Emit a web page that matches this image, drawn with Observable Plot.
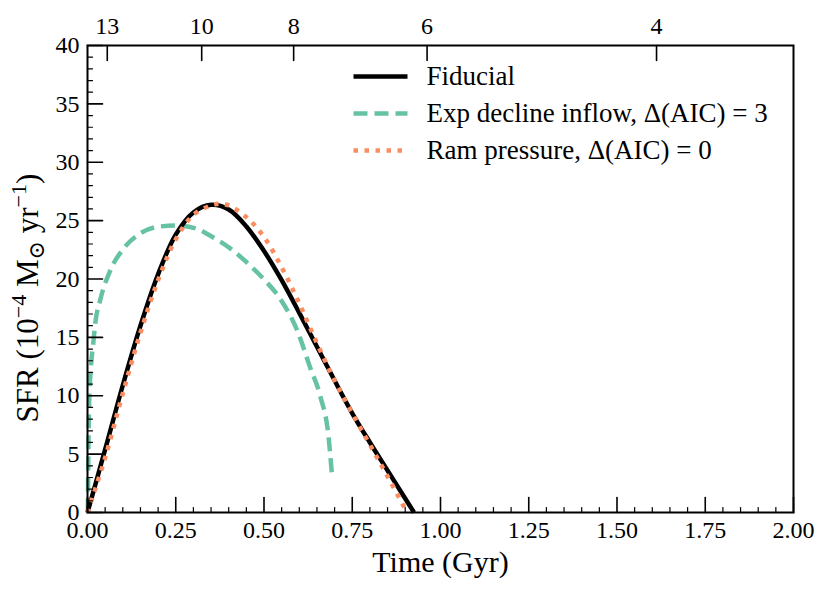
<!DOCTYPE html>
<html>
<head>
<meta charset="utf-8">
<script src="https://cdn.jsdelivr.net/npm/d3@7"></script>
<script src="https://cdn.jsdelivr.net/npm/@observablehq/plot@0.6"></script>
<style>
  html, body { margin: 0; padding: 0; background: #fff; }
  #chart svg { display: block; }
</style>
</head>
<body>
<div id="chart"></div>
<script>
// ---- data ----
const fiducialT   = [0, 0.05, 0.10, 0.15, 0.20, 0.25, 0.30, 0.35, 0.40, 0.45, 0.50, 0.55, 0.60, 0.65, 0.70, 0.75, 0.80, 0.85, 0.90, 0.925];
const fiducialSFR = [0, 5.4, 10.9, 16.0, 20.4, 23.8, 25.7, 26.35, 25.95, 24.5, 22.4, 19.9, 17.1, 14.2, 11.3, 8.5, 6.0, 3.6, 1.2, 0];

const expT   = [0.001, 0.002, 0.004, 0.006, 0.0096, 0.017, 0.022, 0.036, 0.064, 0.102, 0.149, 0.206, 0.253, 0.31, 0.348, 0.405, 0.452, 0.499, 0.546, 0.594, 0.631, 0.66, 0.683, 0.692];
const expSFR = [0, 3.5, 8.5, 10.5, 12.4, 14.7, 16.2, 18.2, 20.7, 22.6, 23.9, 24.5, 24.58, 24.3, 23.7, 22.6, 21.4, 20.0, 18.3, 15.6, 12.4, 9.9, 6.45, 3.4];

const ramT   = [0, 0.05, 0.10, 0.15, 0.20, 0.25, 0.30, 0.35, 0.375, 0.40, 0.45, 0.50, 0.55, 0.60, 0.65, 0.70, 0.75, 0.80, 0.85, 0.90];
const ramSFR = [0, 4.7, 10.2, 15.4, 19.9, 23.4, 25.5, 26.3, 26.45, 26.3, 25.3, 23.6, 21.0, 17.9, 14.5, 11.3, 8.5, 5.8, 3.1, 0.3];

const seriesNames  = ["Fiducial", "Exp decline inflow, Δ(AIC) = 3", "Ram pressure, Δ(AIC) = 0"];
const seriesColors = ["#000000", "#66c2a5", "#fc8d62"];

const xMajorTicks = [0, 0.25, 0.5, 0.75, 1.0, 1.25, 1.5, 1.75, 2.0];
const yMajorTicks = [0, 5, 10, 15, 20, 25, 30, 35, 40];
const topTickLabels = ["13", "10", "8", "6", "4"];
const topTickTimes  = [0.056, 0.3235, 0.584, 0.962, 1.612];

const xLabel = "Time (Gyr)";
const yLabelParts = [["SFR (10", ""], ["−4", "sup"], [" M", ""], ["⊙", "sub"], [" yr", ""], ["−1", "sup"], [")", ""]];

// ---- derived ----
const toRows = (T, S) => T.map((t, i) => ({t, s: S[i]}));
const fiducial = toRows(fiducialT, fiducialSFR);
const expDecline = toRows(expT, expSFR);
const ram = toRows(ramT, ramSFR);

const xMinorTicks = d3.range(0, 2.0001, 0.05).map(v => +v.toFixed(2)).filter(v => !xMajorTicks.some(m => Math.abs(m - v) < 1e-6));
const yMinorTicks = d3.range(0, 41, 1).filter(v => v % 5 !== 0);
const topMap = new Map(topTickTimes.map((t, i) => [t, topTickLabels[i]]));
const yLabelText = yLabelParts.map(p => p[0]).join("");

const tickShape = { draw(ctx, l) { ctx.moveTo(0, 0); ctx.lineTo(0, -l); } };
const FONT = "'Liberation Serif', 'DejaVu Serif', serif";

const legendDash = [null, "14,7", "4.5,6.5"];
const legendRowsDy = [31, 68, 105];

const plot = Plot.plot({
  width: 830,
  height: 595,
  marginLeft: 87,
  marginRight: 37,
  marginTop: 45,
  marginBottom: 83,
  style: { fontFamily: FONT, fontSize: "24px", background: "#fff", color: "#000" },
  x: { domain: [0, 2], label: null },
  y: { domain: [0, 40], label: null },
  marks: [
    // curves
    Plot.line(expDecline, {x: "t", y: "s", stroke: seriesColors[1], strokeWidth: 4.5, strokeDasharray: "14,7", strokeLinecap: "butt", curve: "monotone-x"}),
    Plot.line(fiducial, {x: "t", y: "s", stroke: seriesColors[0], strokeWidth: 4.5, strokeLinecap: "butt", curve: "catmull-rom"}),
    Plot.line(ram, {x: "t", y: "s", stroke: seriesColors[2], strokeWidth: 4.5, strokeDasharray: "4.5,6.5", strokeLinecap: "butt", curve: "catmull-rom"}),

    // frame
    Plot.frame({stroke: "#000", strokeWidth: 2}),

    // inward ticks
    Plot.vector(xMajorTicks, {x: d => d, frameAnchor: "bottom", length: 15, rotate: 0, anchor: "start", shape: tickShape, stroke: "#000", strokeWidth: 1.6}),
    Plot.vector(xMinorTicks, {x: d => d, frameAnchor: "bottom", length: 5, rotate: 0, anchor: "start", shape: tickShape, stroke: "#000", strokeWidth: 1.2}),
    Plot.vector(yMajorTicks, {y: d => d, frameAnchor: "left", length: 15, rotate: 90, anchor: "start", shape: tickShape, stroke: "#000", strokeWidth: 1.6}),
    Plot.vector(yMinorTicks, {y: d => d, frameAnchor: "left", length: 5, rotate: 90, anchor: "start", shape: tickShape, stroke: "#000", strokeWidth: 1.2}),
    Plot.vector(topTickTimes, {x: d => d, frameAnchor: "top", length: 15, rotate: 180, anchor: "start", shape: tickShape, stroke: "#000", strokeWidth: 1.6}),

    // tick labels
    Plot.axisX({anchor: "bottom", ticks: xMajorTicks, tickSize: 0, tickPadding: 8, tickFormat: d3.format(".2f"), label: null, fontSize: 24}),
    Plot.axisY({anchor: "left", ticks: yMajorTicks, tickSize: 0, tickPadding: 8, tickFormat: d => String(d), label: null, fontSize: 24}),
    Plot.axisX({anchor: "top", ticks: topTickTimes, tickSize: 0, tickPadding: 12, tickFormat: d => topMap.get(d), label: null, fontSize: 24}),

    // axis titles
    Plot.text([xLabel], {frameAnchor: "bottom", dy: 50, text: d => d, textAnchor: "middle", lineAnchor: "middle", fontSize: 30}),
    Plot.text([yLabelText], {frameAnchor: "left", dx: -59, dy: 19, rotate: -90, text: d => d, textAnchor: "middle", lineAnchor: "middle", fontSize: 31}),

    // legend
    ...seriesNames.map((name, i) => Plot.vector([name], {frameAnchor: "top-left", dx: 266, dy: legendRowsDy[i], length: 54, rotate: 90, anchor: "start", shape: tickShape, stroke: seriesColors[i], strokeWidth: 4.5, strokeDasharray: legendDash[i], strokeLinecap: "butt"})),
    ...seriesNames.map((name, i) => Plot.text([name], {frameAnchor: "top-left", dx: 339, dy: legendRowsDy[i], text: d => d, textAnchor: "start", lineAnchor: "middle", fontSize: 27}))
  ]
});

// rebuild y label with super/subscripts
plot.querySelectorAll("text").forEach(el => {
  if (el.textContent === yLabelText) {
    el.textContent = "";
    const ns = "http://www.w3.org/2000/svg";
    let shift = 0;
    yLabelParts.forEach(([txt, kind]) => {
      const ts = document.createElementNS(ns, "tspan");
      ts.textContent = txt;
      const target = kind === "sup" ? -12 : kind === "sub" ? 6 : 0;
      if (target !== shift) { ts.setAttribute("dy", String(target - shift)); shift = target; }
      if (kind) ts.setAttribute("font-size", "22");
      el.appendChild(ts);
    });
  }
});

document.getElementById("chart").appendChild(plot);
</script>
</body>
</html>
